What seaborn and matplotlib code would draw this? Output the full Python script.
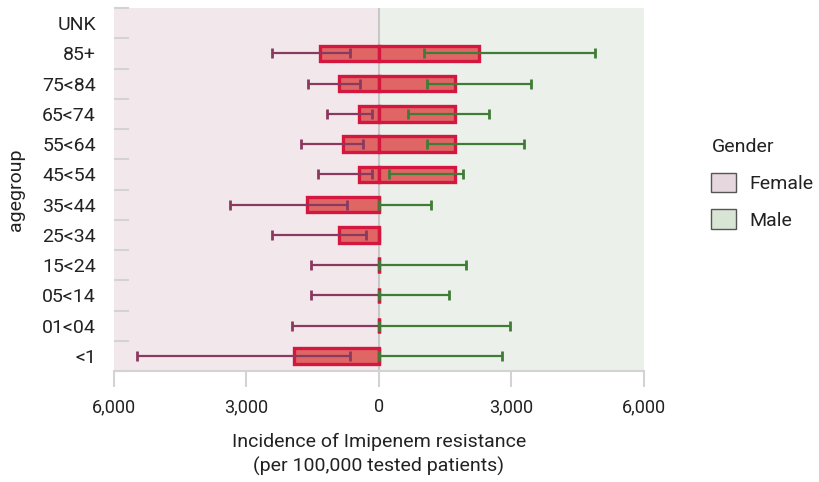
import numpy as np
import pandas as pd
import matplotlib
matplotlib.use("Agg")
import matplotlib.pyplot as plt
from matplotlib.patches import Patch
import seaborn as sns

# ---- data ----
agegroups = ["UNK", "85+", "75<84", "65<74", "55<64", "45<54", "35<44",
             "25<34", "15<24", "05<14", "01<04", "<1"]
data_ages = ["85+", "75<84", "65<74", "55<64", "45<54", "35<44",
             "25<34", "15<24", "05<14", "01<04", "<1"]
female_value = [1336, 899, 460, 822, 460, 1630, 899, 0, 0, 0, 1917]
female_lo = [2422, 1614, 1177, 1766, 1381, 3373, 2422, 1540, 1540, 1970, 5486]
female_hi = [657, 430, 166, 370, 166, 724, 294, 0, 0, 0, 657]
male_value = [2271, 1721, 1721, 1721, 1721, 0, 0, 0, 0, 0, 0]
male_lo = [1011, 1079, 649, 1079, 219, 0, np.nan, 0, 0, 0, 0]
male_hi = [4890, 3441, 2483, 3283, 1894, 1177, np.nan, 1970, 1585, 2966, 2785]
xticks = [-6000, -3000, 0, 3000, 6000]
xticklabels = ["6,000", "3,000", "0", "3,000", "6,000"]

# ---- style ----
sns.set_theme(style="white")
plt.rcParams["font.family"] = ["Roboto", "DejaVu Sans"]
text_color = "#222222"
bar_fill = "#e06666"
bar_edge = "#d4173e"
female_bg = "#f2e8ec"
male_bg = "#ebf0ea"
female_err = "#8a3a5f"
male_err = "#3f7c35"
grid_gray = "#d3d3d3"

df = pd.DataFrame({
    "agegroup": data_ages * 2,
    "value": [-v for v in female_value] + male_value,
    "Gender": ["Female"] * len(data_ages) + ["Male"] * len(data_ages),
})

fig = plt.figure(figsize=(8.2, 4.82), dpi=100)
ax = fig.add_axes([114 / 820, 1 - 371 / 482, (644 - 114) / 820, (371 - 8) / 482])

ax.axvspan(-6000, 0, color=female_bg, zorder=0, lw=0)
ax.axvspan(0, 6000, color=male_bg, zorder=0, lw=0)
ax.axvline(0, color="#c8c8c8", lw=1.5, zorder=1)

sns.barplot(data=df, x="value", y="agegroup", hue="Gender", order=agegroups,
            palette=[bar_fill, bar_fill], saturation=1, dodge=False, orient="h",
            width=0.52, errorbar=None, edgecolor=bar_edge, linewidth=2.4,
            legend=False, ax=ax, zorder=2)

ypos_f = [agegroups.index(a) for a in data_ages]
f_val = -np.array(female_value, dtype=float)
f_err = np.array([np.array(female_lo) - np.array(female_value),
                  np.array(female_value) - np.array(female_hi)], dtype=float)
ax.errorbar(f_val, ypos_f, xerr=f_err, fmt="none", ecolor=female_err,
            elinewidth=1.6, capsize=3.8, capthick=2.0, zorder=3)

m_val = np.array(male_value, dtype=float)
m_lo = np.array(male_lo, dtype=float)
m_hi = np.array(male_hi, dtype=float)
mask = ~np.isnan(m_hi)
m_err = np.array([m_val[mask] - m_lo[mask], m_hi[mask] - m_val[mask]])
ax.errorbar(m_val[mask], np.array(ypos_f)[mask], xerr=m_err, fmt="none",
            ecolor=male_err, elinewidth=1.6, capsize=3.8, capthick=2.0, zorder=3)

ax.set_xlim(-6000, 6000)
ax.set_ylim(len(agegroups) - 0.5, -0.5)
ax.set_xticks(xticks)
ax.set_xticklabels(xticklabels)
ax.set_yticks(range(len(agegroups)))
ax.set_yticklabels(agegroups)
ax.set_yticks(np.arange(-0.5, len(agegroups), 1.0), minor=True)

for s in ["top", "right", "left"]:
    ax.spines[s].set_visible(False)
ax.spines["bottom"].set_color(grid_gray)
ax.spines["bottom"].set_linewidth(1.5)

ax.tick_params(axis="y", which="major", length=0, pad=13, labelsize=14,
               labelcolor=text_color)
ax.tick_params(axis="y", which="minor", direction="in", length=11, width=1.5,
               color=grid_gray, left=True)
ax.tick_params(axis="x", which="major", direction="out", length=11.5, width=1.5,
               color=grid_gray, pad=8, labelsize=13, labelcolor=text_color,
               bottom=True)

ax.set_xlabel("Incidence of Imipenem resistance\n(per 100,000 tested patients)",
              fontsize=14, color=text_color, labelpad=12, linespacing=1.4)
ax.set_ylabel("agegroup", fontsize=14, color=text_color, labelpad=12)

handles = [Patch(facecolor="#e6d6dd", edgecolor="#555555", lw=1.0, label="Female"),
           Patch(facecolor="#d8e5d5", edgecolor="#555555", lw=1.0, label="Male")]
leg = fig.legend(handles=handles, title="Gender", loc="upper left",
                 bbox_to_anchor=(694 / 820, 1 - 121 / 482), frameon=False,
                 fontsize=14, title_fontsize=14, handlelength=1.25,
                 handleheight=1.15, handletextpad=0.7, labelspacing=0.82,
                 alignment="left")
leg._legend_box.sep = 12
for t in leg.get_texts():
    t.set_color(text_color)
leg.get_title().set_color(text_color)

fig.savefig("out.png", dpi=100)
